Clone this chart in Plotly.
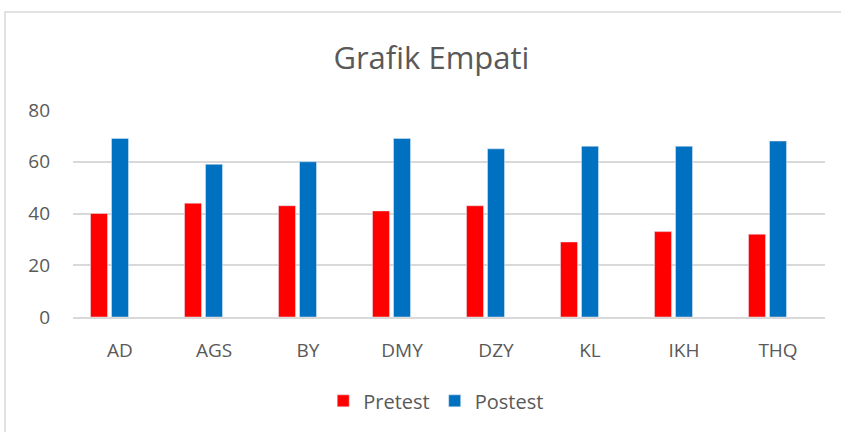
import plotly.graph_objects as go

categories = ["AD", "AGS", "BY", "DMY", "DZY", "KL", "IKH", "THQ"]
pretest = [40, 44, 43, 41, 43, 29, 33, 32]
postest = [69, 59, 60, 69, 65, 66, 66, 68]
empty_series = [None] * len(categories)  # third (empty) series slot in each cluster
y_ticks = [0, 20, 40, 60, 80]

FONT = "Open Sans, Lato, sans-serif"
GRAY = "#595959"

fig = go.Figure()
fig.add_trace(go.Bar(name="Pretest", x=categories, y=pretest, marker_color="#ff0000"))
fig.add_trace(go.Bar(name="Postest", x=categories, y=postest, marker_color="#0070c0"))
fig.add_trace(go.Bar(name="", x=categories, y=empty_series, marker_color="#a5a5a5",
                     showlegend=False, hoverinfo="skip"))

fig.update_layout(
    width=841, height=432,
    margin=dict(l=73, r=16, t=110, b=113),
    paper_bgcolor="white", plot_bgcolor="white",
    barmode="group", bargap=0.33, bargroupgap=0.19,
    title=dict(text="Grafik Empati", x=0.513, xanchor="center", y=0.866, yanchor="middle",
               font=dict(family=FONT, size=31, color=GRAY)),
    font=dict(family=FONT, color=GRAY),
    legend=dict(orientation="h", x=0.483, xanchor="center", y=-0.405, yanchor="middle",
                font=dict(family=FONT, size=20, color=GRAY), itemwidth=30,
                traceorder="normal"),
    showlegend=True,
)
fig.update_yaxes(range=[0, 80], tickvals=y_ticks, showgrid=True, gridcolor="#d9d9d9", gridwidth=1.5,
                 zeroline=False, showline=False, tickfont=dict(size=19, color=GRAY),
                 ticks="", ticklen=0, ticklabelstandoff=22)
fig.update_xaxes(showline=True, linecolor="#d9d9d9", linewidth=1.5, ticks="",
                 tickfont=dict(size=19, color=GRAY), ticklabelstandoff=15)
# chart frame
fig.add_shape(type="rect", xref="paper", yref="paper",
              x0=(5 - 73) / 752, x1=(845 - 73) / 752,
              y0=(432 - 440 - 113) / 209, y1=(432 - 11 - 113) / 209,
              line=dict(color="#d9d9d9", width=1.5), fillcolor="rgba(0,0,0,0)", layer="below")

fig.write_html("out.html", config={"displayModeBar": False},
               post_script="document.body.style.margin='0';document.body.style.overflow='hidden';")
